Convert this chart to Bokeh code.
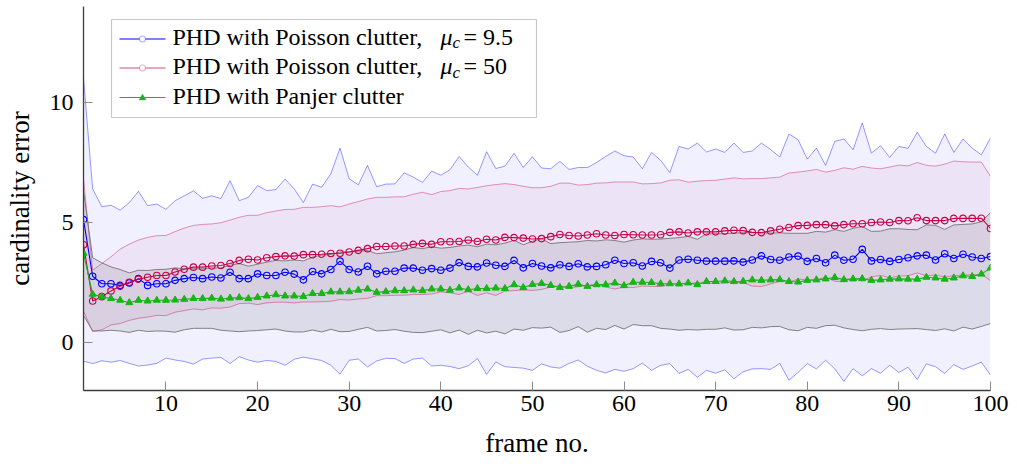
import numpy as np
from bokeh.plotting import figure
from bokeh.models import (Range1d, FixedTicker, Label, BoxAnnotation,
                          PolyAnnotation, Arrow, ColumnDataSource)
from bokeh.embed import file_html
from bokeh.resources import INLINE

# ---------------------------------------------------------------- data
frames = list(range(1, 101))

# PHD, Poisson clutter, mu_c = 9.5 : mean and standard deviation of cardinality error
poisson_low_mean = [
    5.12, 2.76, 2.45, 2.45, 2.38, 2.48, 2.66, 2.38, 2.45, 2.45,
    2.59, 2.66, 2.71, 2.66, 2.73, 2.69, 2.93, 2.66, 2.66, 2.86,
    2.79, 2.79, 2.93, 2.85, 2.61, 2.96, 2.86, 3.04, 3.39, 3.04,
    2.94, 3.18, 2.86, 2.97, 2.97, 3.10, 3.10, 3.01, 3.08, 3.01,
    3.10, 3.33, 3.17, 3.15, 3.31, 3.22, 3.17, 3.42, 3.11, 3.29,
    3.19, 3.11, 3.24, 3.17, 3.28, 3.15, 3.17, 3.24, 3.43, 3.29,
    3.32, 3.19, 3.38, 3.32, 3.10, 3.44, 3.47, 3.43, 3.39, 3.39,
    3.39, 3.40, 3.35, 3.44, 3.61, 3.46, 3.43, 3.56, 3.60, 3.38,
    3.50, 3.32, 3.64, 3.43, 3.47, 3.88, 3.40, 3.46, 3.38, 3.46,
    3.53, 3.61, 3.64, 3.44, 3.70, 3.50, 3.68, 3.56, 3.50, 3.58]
poisson_low_std = [
    5.90, 3.64, 3.21, 3.27, 3.13, 3.35, 3.64, 3.32, 3.32, 3.10,
    3.32, 3.45, 3.61, 3.35, 3.38, 3.31, 3.81, 3.25, 3.39, 3.68,
    3.54, 3.58, 3.88, 3.55, 3.22, 3.64, 3.61, 3.99, 4.71, 3.78,
    3.63, 4.20, 3.63, 3.63, 3.64, 3.97, 3.79, 3.66, 4.06, 3.96,
    4.10, 4.42, 4.14, 3.82, 4.64, 4.03, 4.18, 4.46, 4.18, 4.45,
    4.08, 4.13, 4.31, 4.04, 4.01, 4.14, 4.33, 4.51, 4.55, 4.49,
    4.41, 4.05, 4.54, 4.27, 3.98, 4.73, 4.59, 4.88, 4.55, 4.67,
    4.53, 4.91, 4.57, 4.54, 4.70, 4.58, 4.30, 5.13, 4.85, 4.26,
    4.60, 4.06, 4.74, 5.05, 4.56, 5.27, 4.49, 4.74, 4.33, 4.71,
    4.56, 5.15, 4.53, 4.45, 4.99, 4.42, 4.80, 4.54, 4.32, 4.94]

# PHD, Poisson clutter, mu_c = 50
poisson_high_mean = [
    4.07, 1.73, 1.91, 2.15, 2.34, 2.51, 2.64, 2.72, 2.79, 2.79,
    2.94, 3.05, 3.14, 3.14, 3.19, 3.21, 3.29, 3.42, 3.47, 3.44,
    3.53, 3.58, 3.61, 3.60, 3.66, 3.66, 3.68, 3.71, 3.72, 3.77,
    3.84, 3.91, 4.00, 4.00, 4.02, 4.02, 4.09, 4.13, 4.09, 4.20,
    4.20, 4.21, 4.27, 4.21, 4.30, 4.27, 4.38, 4.37, 4.35, 4.31,
    4.33, 4.41, 4.50, 4.46, 4.44, 4.48, 4.53, 4.48, 4.46, 4.50,
    4.49, 4.48, 4.48, 4.49, 4.59, 4.61, 4.56, 4.61, 4.61, 4.61,
    4.65, 4.68, 4.66, 4.59, 4.58, 4.65, 4.72, 4.79, 4.87, 4.88,
    4.91, 4.91, 4.86, 4.91, 4.95, 4.95, 5.00, 5.02, 5.00, 5.08,
    5.07, 5.20, 5.08, 5.08, 5.08, 5.17, 5.17, 5.17, 5.18, 4.75]
poisson_high_std = [
    2.76, 1.28, 1.38, 1.42, 1.55, 1.59, 1.63, 1.66, 1.66, 1.67,
    1.68, 1.72, 1.74, 1.78, 1.75, 1.78, 1.81, 1.80, 1.83, 1.86,
    1.88, 1.90, 1.93, 1.95, 1.97, 1.97, 1.98, 1.99, 1.93, 2.00,
    2.03, 2.07, 2.05, 2.05, 2.05, 2.05, 2.09, 2.13, 2.07, 2.09,
    2.13, 2.21, 2.13, 2.25, 2.23, 2.31, 2.24, 2.21, 2.16, 2.14,
    2.12, 2.10, 2.14, 2.18, 2.12, 2.10, 2.11, 2.17, 2.23, 2.19,
    2.20, 2.13, 2.14, 2.16, 2.17, 2.17, 2.12, 2.11, 2.14, 2.15,
    2.16, 2.18, 2.16, 2.24, 2.25, 2.21, 2.17, 2.27, 2.23, 2.27,
    2.30, 2.19, 2.31, 2.37, 2.27, 2.39, 2.27, 2.22, 2.31, 2.31,
    2.29, 2.30, 2.30, 2.27, 2.35, 2.39, 2.36, 2.35, 2.34, 2.17]

# PHD, Panjer clutter
panjer_mean = [
    3.72, 2.01, 1.90, 1.83, 1.76, 1.66, 1.76, 1.73, 1.76, 1.76,
    1.77, 1.80, 1.83, 1.83, 1.85, 1.81, 1.85, 1.87, 1.83, 1.88,
    1.94, 1.99, 1.94, 1.94, 1.92, 2.04, 2.04, 2.11, 2.11, 2.12,
    2.18, 2.23, 2.09, 2.12, 2.16, 2.16, 2.19, 2.16, 2.23, 2.23,
    2.18, 2.27, 2.20, 2.25, 2.25, 2.27, 2.25, 2.41, 2.29, 2.42,
    2.46, 2.38, 2.29, 2.34, 2.43, 2.34, 2.41, 2.41, 2.48, 2.37,
    2.51, 2.51, 2.50, 2.45, 2.45, 2.44, 2.48, 2.41, 2.54, 2.54,
    2.57, 2.54, 2.55, 2.61, 2.59, 2.61, 2.62, 2.54, 2.52, 2.59,
    2.61, 2.65, 2.71, 2.62, 2.65, 2.66, 2.59, 2.61, 2.64, 2.65,
    2.64, 2.64, 2.72, 2.69, 2.64, 2.69, 2.78, 2.75, 2.85, 3.10]
panjer_std = [
    2.60, 1.52, 1.42, 1.32, 1.28, 1.24, 1.25, 1.27, 1.28, 1.29,
    1.34, 1.27, 1.24, 1.24, 1.26, 1.30, 1.37, 1.42, 1.35, 1.38,
    1.41, 1.43, 1.46, 1.50, 1.48, 1.52, 1.60, 1.56, 1.66, 1.66,
    1.63, 1.60, 1.61, 1.62, 1.62, 1.69, 1.77, 1.75, 1.76, 1.70,
    1.78, 1.75, 1.86, 1.74, 1.85, 1.80, 1.89, 1.85, 1.78, 1.80,
    1.86, 1.74, 1.87, 1.84, 1.77, 1.91, 1.82, 1.87, 1.77, 1.81,
    1.76, 1.81, 1.80, 1.86, 1.89, 1.93, 1.94, 1.89, 1.99, 1.99,
    1.96, 2.02, 2.02, 1.98, 1.98, 1.95, 1.95, 2.01, 2.03, 1.96,
    2.02, 1.95, 1.99, 2.01, 2.11, 2.17, 2.04, 2.03, 2.10, 2.09,
    2.07, 2.06, 2.18, 2.19, 2.07, 2.21, 2.14, 2.19, 2.18, 2.31]

x_ticks = [10, 20, 30, 40, 50, 60, 70, 80, 90, 100]
y_ticks = [0, 5, 10]

legend_labels = ["PHD with Poisson clutter,", "PHD with Poisson clutter,",
                 "PHD with Panjer clutter"]
legend_mu_values = ["= 9.5", "= 50", None]

# ---------------------------------------------------------------- style
FONT = "Liberation Serif"
BLUE = "#0000FF"
RED = "#C80046"
GREEN = "#18B418"
GRAY = "#6E6E6E"

X_MIN, X_MAX, Y_MIN, Y_MAX = 1, 100, -2, 14
WIDTH, HEIGHT = 1017, 464
BORDER_L, BORDER_R, BORDER_T, BORDER_B = 83, 27, 6, 74
FRAME_W = WIDTH - BORDER_L - BORDER_R
FRAME_H = HEIGHT - BORDER_T - BORDER_B

p = figure(width=WIDTH, height=HEIGHT, output_backend="svg", toolbar_location=None,
           x_range=Range1d(X_MIN, X_MAX), y_range=Range1d(Y_MIN, Y_MAX),
           min_border_left=BORDER_L, min_border_right=BORDER_R,
           min_border_top=BORDER_T, min_border_bottom=BORDER_B)
p.background_fill_color = "white"
p.border_fill_color = "white"
p.outline_line_color = None
p.xgrid.visible = False
p.ygrid.visible = False


def band(mean, std, fill_color, fill_alpha):
    m = np.asarray(mean)
    s = np.asarray(std)
    src = ColumnDataSource(dict(x=frames, lo=m - s, hi=m + s))
    p.varea(x="x", y1="lo", y2="hi", source=src,
            fill_color=fill_color, fill_alpha=fill_alpha)
    return src


# mean +/- one standard deviation envelopes
src_b = band(poisson_low_mean, poisson_low_std, BLUE, 0.06)
src_r = band(poisson_high_mean, poisson_high_std, RED, 0.05)
src_g = band(panjer_mean, panjer_std, "black", 0.085)

for src, col, alpha in ((src_b, BLUE, 0.4), (src_r, RED, 0.4), (src_g, GRAY, 0.85)):
    p.line("x", "hi", source=src, line_color=col, line_alpha=alpha, line_width=1)
    p.line("x", "lo", source=src, line_color=col, line_alpha=alpha, line_width=1)

# mean curves
p.line(frames, poisson_low_mean, line_color=BLUE, line_width=1.1)
p.scatter(frames, poisson_low_mean, marker="circle", size=6.5,
          line_color=BLUE, line_width=1.1, fill_color=None)
p.line(frames, poisson_high_mean, line_color=RED, line_width=1.1)
p.scatter(frames, poisson_high_mean, marker="circle", size=6.5,
          line_color=RED, line_width=1.1, fill_color=None)
p.line(frames, panjer_mean, line_color=GREEN, line_width=1.1)
p.scatter(frames, panjer_mean, marker="triangle", size=7,
          line_color=GREEN, line_width=1, fill_color=GREEN)

# axes
p.xaxis.ticker = FixedTicker(ticks=x_ticks)
p.yaxis.ticker = FixedTicker(ticks=y_ticks)
for ax in (p.xaxis[0], p.yaxis[0]):
    ax.axis_line_color = "#3c3c3c"
    ax.axis_line_width = 1.3
    ax.major_tick_in = 9
    ax.major_tick_out = 0
    ax.minor_tick_in = 0
    ax.minor_tick_out = 0
    ax.major_tick_line_color = "#8c8c8c"
    ax.major_tick_line_width = 1
    ax.major_label_text_font = FONT
    ax.major_label_text_font_size = "24px"
    ax.major_label_text_color = "black"
    ax.axis_label_text_font = FONT
    ax.axis_label_text_font_size = "27px"
    ax.axis_label_text_font_style = "normal"
    ax.axis_label_text_color = "black"
p.xaxis.axis_label = "frame no."
p.yaxis.axis_label = "cardinality error"
p.xaxis.major_label_standoff = 5
p.yaxis.major_label_standoff = 10
p.xaxis.axis_label_standoff = 14
p.yaxis.axis_label_standoff = 12

# legend, laid out in pixels from the lower-left corner of the frame
p.add_layout(BoxAnnotation(left=28, right=453, bottom=273, top=371,
                           left_units="screen", right_units="screen",
                           bottom_units="screen", top_units="screen",
                           fill_color="white", fill_alpha=1.0,
                           line_color="#4a4a4a", line_width=1.2))

row_line_y = [351.5, 322.5, 293]
row_base_y = [346, 316.5, 287]
sample_colors = [BLUE, RED, GREEN]
sample_line_alpha = [1.0, 0.7, 1.0]


def px_to_data(sx, sy):
    return (X_MIN + sx * (X_MAX - X_MIN) / FRAME_W,
            Y_MIN + sy * (Y_MAX - Y_MIN) / FRAME_H)


def legend_text(sx, baseline, text, size=24, style="normal"):
    # the label box is anchored at its bottom edge, one descent below the baseline
    x, y = px_to_data(sx, baseline - 0.22 * size)
    p.add_layout(Label(x=x, y=y, text=text, text_font=FONT,
                       text_font_size=f"{size}px", text_font_style=style,
                       text_color="black"))


for k in range(3):
    yl = row_line_y[k]
    col = sample_colors[k]
    p.add_layout(Arrow(start=None, end=None, x_start=36, y_start=yl, x_end=82, y_end=yl,
                       start_units="screen", end_units="screen",
                       line_color=col, line_alpha=sample_line_alpha[k], line_width=1.2))
    if k < 2:
        r = 3
        p.add_layout(BoxAnnotation(left=59 - r, right=59 + r, bottom=yl - r, top=yl + r,
                                   left_units="screen", right_units="screen",
                                   bottom_units="screen", top_units="screen",
                                   border_radius=r, fill_color="white", fill_alpha=1,
                                   line_color=col, line_width=1.1))
    else:
        p.add_layout(PolyAnnotation(xs=[55.5, 62.5, 59], ys=[yl - 2.5, yl - 2.5, yl + 3.5],
                                    xs_units="screen", ys_units="screen",
                                    fill_color=col, fill_alpha=1, line_color=col,
                                    line_width=1))
    yb = row_base_y[k]
    legend_text(89, yb, legend_labels[k])
    if legend_mu_values[k] is not None:
        legend_text(357, yb, "μ", style="italic")
        legend_text(369, yb - 4, "c", size=17, style="italic")
        legend_text(380, yb, legend_mu_values[k])

open("out.html", "w").write(file_html(p, INLINE))
